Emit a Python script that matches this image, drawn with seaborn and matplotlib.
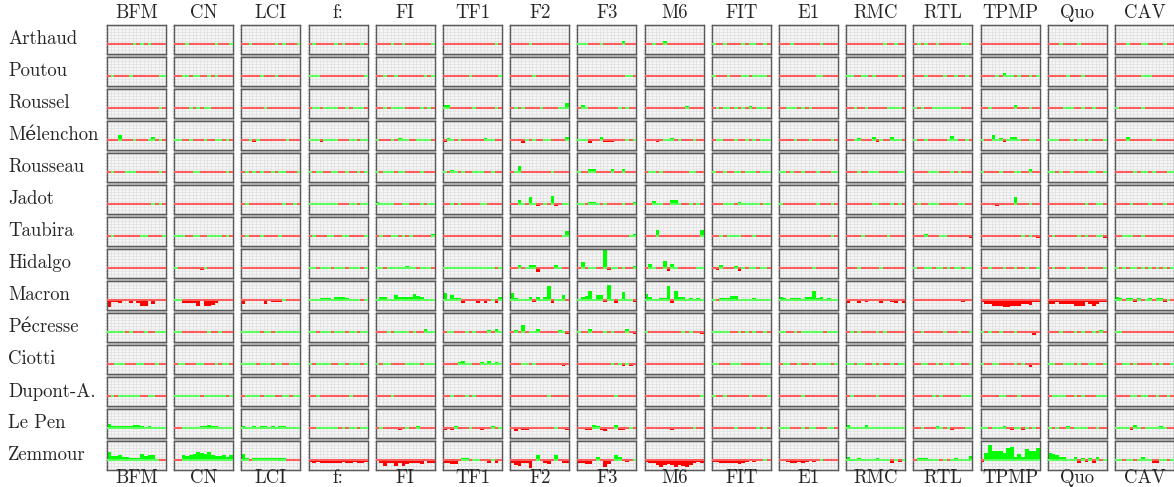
import numpy as np
import pandas as pd
import matplotlib.pyplot as plt
import seaborn as sns
from matplotlib.patches import Rectangle

# --- Données : un tableau par candidat, 16 chaînes x 16 périodes ---
channels = ['BFM', 'CN', 'LCI', 'f:', 'FI', 'TF1', 'F2', 'F3', 'M6', 'FIT', 'E1', 'RMC', 'RTL', 'TPMP', 'Quo', 'CAV']
candidates = ['Arthaud', 'Poutou', 'Roussel', 'Mélenchon', 'Rousseau', 'Jadot', 'Taubira', 'Hidalgo',
              'Macron', 'Pécresse', 'Ciotti', 'Dupont-A.', 'Le Pen', 'Zemmour']

arthaud = [
    [-.1,-.1,-.1,-.1,-.1,-.5,-.1,.1,-.1,.1,-.1,.1,-.5,-.1,-.1,-.1],
    [-.1,-.1,-.5,.1,-.1,-.5,-.1,-.1,-.1,-.1,-.1,.1,-.5,-.1,-.1,.1],
    [-.1,-.1,.1,-.1,-.1,-.5,-.1,-.1,-.1,.1,-.1,.1,-.5,-.1,-.1,.1],
    [-.1,.1,-.1,-.1,-.1,-.1,-.1,.1,-.1,.1,-.1,-.1,-.5,-.1,.1,-.1],
    [-.1,-.1,-.1,-.1,.1,-.5,-.1,.1,-.1,-.1,-.1,-.1,-.5,-.1,-.1,.1],
    [-.1,-.1,-.5,-.1,-.1,-.5,-.1,-.1,-.1,-.1,-.1,-.1,-.5,-.1,.1,-.1],
    [-.1,-.1,-.5,-.1,-.1,.1,-.1,-.1,-.1,-.1,-.1,-.1,-.5,-.1,-.1,-.1],
    [.1,.1,.1,-.1,-.1,-.5,.1,-.1,-.1,-.1,-.1,-.1,1.0,-.1,-.1,-.1],
    [-.1,-.1,.1,-.1,-.1,.9,-.1,-.1,-.1,-.1,-.1,-.1,-.5,-.1,-.1,-.1],
    [.1,-.1,-.5,.1,-.1,-.5,-.1,-.1,.1,-.1,.1,.1,-.5,-.1,.1,-.1],
    [-.1,-.1,-.5,.1,-.1,-.5,-.1,-.1,-.1,-.1,-.1,.1,-.5,-.1,-.1,-.1],
    [-.1,-.1,-.5,-.1,-.1,-.5,-.1,-.1,-.1,-.1,.1,-.1,-.5,.1,-.1,-.1],
    [-.1,.1,-.5,.1,-.1,-.5,.1,-.1,-.1,-.1,-.1,-.1,-.5,.1,.1,-.1],
    [-.1,-.1,-.5,-.1,-.1,-.5,-.1,-.1,-.1,-.1,-.1,-.1,-.5,-.1,-.1,-.1],
    [-.1,-.1,-.5,.1,-.1,-.5,-.1,-.1,.1,-.1,-.1,-.1,-.5,-.1,-.1,-.1],
    [-.1,-.1,-.5,.1,-.1,-.5,-.1,.1,.1,-.1,-.1,-.1,-.5,.1,-.1,-.1],
]
poutou = [
    [-.1,.1,-.1,-.1,-.1,-.1,.1,-.1,-.1,-.1,-.1,-.1,-.1,-.1,.1,.1],
    [-.1,-.1,.1,.1,-.1,.1,.1,-.1,-.1,.1,-.1,.1,-.1,-.1,-.1,-.1],
    [-.1,-.1,-.1,-.1,-.1,.1,-.1,-.1,-.1,.1,-.1,-.1,-.1,-.1,-.1,-.1],
    [.1,.1,.1,-.1,-.1,-.1,-.1,-.1,-.1,-.1,-.1,-.1,-.1,-.1,-.1,.1],
    [-.1,-.1,.1,-.1,-.1,.1,-.1,-.1,-.1,-.1,-.1,-.1,-.1,.1,-.1,.1],
    [-.1,-.1,-.1,-.1,-.1,-.1,-.1,.1,-.1,-.1,-.1,-.1,-.1,-.1,-.1,.1],
    [-.1,-.1,-.1,-.1,-.1,-.1,.1,-.1,-.1,-.1,-.1,-.1,-.1,-.1,-.1,-.1],
    [-.1,-.1,-.1,-.1,-.1,-.1,-.1,-.1,-.1,-.1,-.1,-.1,-.1,.1,.1,-.1],
    [-.1,-.1,-.1,-.1,-.1,-.1,-.1,-.1,-.1,-.1,-.1,-.1,-.1,-.1,-.1,-.1],
    [.1,-.1,-.1,-.1,.1,-.1,-.1,-.1,.1,.1,-.1,.1,.1,.1,.1,-.1],
    [-.1,-.1,-.1,-.1,-.1,-.1,-.1,-.1,-.1,-.1,.1,.1,-.1,-.1,-.1,-.1],
    [.1,.1,-.1,-.1,.1,.1,-.1,.1,-.1,-.1,-.1,-.1,-.1,-.1,.1,-.1],
    [-.1,-.1,-.1,.1,-.1,-.1,-.1,-.1,.1,-.1,-.1,.1,-.1,-.1,.1,-.1],
    [-.1,-.1,-.1,-.1,.1,-.1,1.0,.1,.1,-.1,.4,-.1,-.1,.1,-.1,.1],
    [-.1,-.1,-.1,-.1,-.1,.1,-.1,-.1,-.1,.1,-.1,-.1,-.1,-.1,-.1,-.1],
    [-.1,-.1,-.1,-.1,-.1,-.1,-.1,.1,.1,.1,-.1,-.1,-.1,-.1,-.1,-.1],
]
roussel = [
    [-.1,-.1,-.1,-.1,-.1,-.1,-.1,-.1,-.1,-.1,-.1,-.1,-.1,-.1,.1,-.1],
    [-.1,-.1,-.1,-.1,.1,-.1,.1,-.1,.1,.1,-.1,-.1,-.1,-.1,-.1,-.1],
    [-.1,-.1,-.1,-.1,-.1,-.1,.1,-.1,-.1,-.1,-.1,-.1,-.1,-.1,-.1,-.1],
    [-.1,.1,.1,-.1,.1,.1,.1,.1,-.1,-.1,.1,-.1,.1,.1,.1,-.1],
    [-.1,-.1,.1,-.1,.1,.1,.1,.1,-.1,-.1,-.1,-.1,.1,-.1,.1,-.1],
    [.8,.8,-.1,-.1,-.1,-.1,-.1,-.1,.1,-.1,-.1,-.1,-.1,-.1,.1,-.1],
    [-.1,.1,-.1,.4,-.1,-.1,-.1,-.1,.1,-.1,-.1,-.1,-.1,.1,.1,1.6],
    [-.1,1.1,.1,-.1,-.1,-.1,-.1,-.1,-.1,-.1,-.1,.1,-.1,.1,-.1,-.1],
    [-.1,-.1,-.1,-.1,-.1,-.1,-.1,-.1,-.1,-.1,-.1,.6,-.1,-.1,-.1,-.1],
    [-.1,.1,-.1,.1,.1,-.1,.1,-.1,.1,-.1,.6,-.1,.1,.1,.1,-.1],
    [-.1,-.1,.1,.1,.1,-.1,.1,-.1,.1,-.1,-.1,-.1,-.1,-.1,-.1,-.1],
    [-.1,-.1,.1,-.1,-.1,.1,-.1,-.1,-.1,-.1,-.1,.1,.1,.1,.1,-.1],
    [.3,-.1,.1,-.1,-.1,.1,.1,.3,.1,.1,.1,.1,.1,-.1,-.1,-.1],
    [-.1,-.1,.1,-.1,-.1,-.1,-.1,-.1,-.1,.8,-.1,-.1,-.1,.1,-.1,-.1],
    [-.1,-.1,-.1,-.1,.1,.1,.1,-.1,-.1,.1,-.1,-.1,.3,-.1,-.1,-.1],
    [.1,-.1,-.1,-.1,-.1,-.1,-.1,.3,-.1,-.1,-.1,-.1,-.1,-.1,-.1,-.1],
]
melenchon = [
    [-.1,-.1,-.1,1.5,-.1,-.1,-.1,.1,-.1,-.1,-.1,.1,1.1,-.1,.3,-.1],
    [.3,.3,-.1,-.1,.3,-.1,-.1,-.1,.3,-.1,-.1,.3,.3,-.1,.1,-.1],
    [-.1,-.1,.3,-.8,.1,-.1,-.1,-.5,-.1,-.1,-.1,-.1,.3,-.1,-.1,-.1],
    [.3,.3,.3,-.8,.1,.3,.1,.1,-.1,-.1,-.1,.1,.1,-.1,.1,.4],
    [.1,-.1,-.1,-.1,.1,-.3,.6,.3,.1,-.1,-.1,.1,.1,.1,.1,-.1],
    [-.8,.6,.1,-.5,.1,-.1,-.5,-.5,-.1,-.1,-.1,.5,.1,.1,-.1,-.5],
    [-.1,-.1,-.1,-1.0,.1,-.1,.2,-.5,-.1,.1,.1,-.1,-.1,-.1,-.1,1.0],
    [.1,.1,.1,-1.0,-.1,-.1,1.0,-.6,-.6,-.6,-.1,-.1,-.1,.1,-.1,.1],
    [-.5,-.1,-.1,-.8,-.1,.2,.2,.6,-.5,.3,-.5,-.1,-.1,.3,-.5,-.1],
    [-.1,.3,.3,-.1,-.1,-.1,.1,-.1,-.1,.2,-.1,.2,-.1,.2,.2,.2],
    [-.1,-.1,-.1,-.1,.1,-.1,-.1,-.5,.4,-.1,-.1,-.1,-.1,-.1,.2,-.1],
    [-.1,-.1,.1,.6,-.1,-.1,-.5,.8,-.8,.3,-.1,-.1,1.0,.1,.1,-.5],
    [.3,-.1,-.1,.1,-.1,-.1,-.4,-.1,-.3,.3,1.3,.1,-.1,-.1,.2,-.1],
    [.2,-.1,-.1,1.5,.1,.6,-.6,.3,.8,.8,.2,-.1,-.1,.2,.2,-.1],
    [.3,.3,.1,-.1,-.1,-.1,.3,-.1,.1,.1,-.1,.3,-.1,-.1,-.1,.1],
    [-.1,-.1,-.1,.9,-.1,-.1,-.4,-.1,-.1,-.1,.4,-.1,-.1,-.1,-.1,-.1],
]
rousseau = [
    [-.4,.1,-.3,-.5,-.3,.1,.1,.1,-.1,-.1,-.1,-.1,-.1,-.1,.1,-.1],
    [-.1,-.1,-.5,-.1,-.3,.1,.1,-.1,-.1,-.1,-.1,-.1,-.1,-.1,.1,-.1],
    [-.4,.2,-.3,.2,-.4,.1,-.1,-.1,.1,-.1,.1,.1,-.1,-.1,-.1,.1],
    [.1,-.1,.1,.1,-.1,-.1,.1,.1,-.1,-.1,.1,-.1,-.1,.1,-.1,.1],
    [.1,-.1,.1,.1,.1,-.1,.1,.1,-.1,-.1,-.1,-.1,.1,-.1,-.1,-.1],
    [.1,-.3,.7,.1,-.4,.1,-.1,-.1,.1,.4,.1,-.1,-.1,.1,-.1,-.1],
    [-.3,.1,2.0,-.4,-.1,-.1,-.1,-.1,-.1,-.1,-.1,.1,-.4,-.1,-.1,-.1],
    [.1,-.4,-.1,.8,.8,-.1,-.1,-.1,-.1,.8,-.1,-.1,.8,-.1,-.1,-.1],
    [-.3,.3,.1,-.4,.1,-.1,-.1,-.1,-.1,-.1,-.1,-.1,.1,.1,-.1,-.1],
    [.3,-.1,-.4,.3,-.1,-.1,.1,.1,-.1,.1,.1,.1,-.1,.1,.1,.1],
    [.1,.1,-.5,.1,-.1,-.1,.1,-.1,-.1,-.1,.1,-.1,-.1,-.1,.1,.3],
    [-.1,-.1,-.5,.1,-.3,-.1,.1,.1,.1,-.1,-.1,-.1,-.1,-.1,.1,.1],
    [-.1,-.1,-.3,-.3,.1,.1,.1,-.1,-.1,-.1,.1,-.1,.1,-.1,-.1,-.1],
    [.1,-.1,-.3,-.5,-.1,.1,-.1,-.1,-.1,.1,.1,-.1,-.3,.8,-.1,-.1],
    [.1,.1,-.5,.1,-.1,-.1,.1,-.1,-.1,-.1,-.1,.1,.1,-.1,-.1,.1],
    [-.1,-.1,-.5,-.1,-.1,.1,-.1,.1,.1,-.1,.1,-.1,-.3,-.1,.1,.1],
]
jadot = [
    [-.1,-.1,-.1,-.5,-.5,-.1,-.1,-.1,-.1,-.4,-.1,-.1,.1,-.1,.1,-.1],
    [-.1,-.1,-.5,-.5,-.5,-.1,-.1,-.5,-.5,-.5,-.1,-.1,-.1,-.1,-.1,-.5],
    [-.1,.1,-.1,-.1,-.5,-.1,-.1,-.1,-.1,-.1,-.1,.1,-.1,-.1,.1,-.1],
    [.4,.1,.4,.1,.4,.1,.1,.1,-.1,-.1,-.1,.2,.4,-.1,.1,.1],
    [.5,.1,.2,.2,.2,-.1,-.1,.2,.1,-.1,-.1,-.1,.1,-.1,.2,.2],
    [-.1,-.1,.4,-.1,.1,-.1,-.1,-.1,-.5,-.1,.1,.1,-.1,-.1,-.1,-.1],
    [-.1,-.1,1.3,.1,-.1,2.2,.2,-.6,-.1,.1,-.1,2.7,-.6,-.1,.1,.1],
    [.4,.1,-.1,.6,.6,.1,-.1,.1,-.1,-.1,-.1,-.5,.1,-.1,-.1,.7],
    [-.1,-.1,.9,.1,.4,-.1,-.1,1.2,1.2,.1,-.1,-.1,.4,-.1,.4,-.1],
    [-.1,-.1,-.5,.3,.3,.1,-.1,.6,.1,.1,.1,.1,.1,-.1,.1,.1],
    [.1,-.1,-.1,-.1,-.1,-.1,-.1,-.1,-.1,-.5,.1,-.1,-.1,-.1,.1,-.1],
    [-.1,-.1,-.5,-.1,-.5,-.1,-.1,.1,.1,-.1,-.1,-.1,.1,-.1,.1,-.1],
    [-.1,.4,-.3,-.1,.1,.1,.1,-.1,-.1,-.4,-.1,-.1,.4,.4,-.1,-.4],
    [-.1,-.1,-.4,-.4,-.8,-.1,-.1,-.4,-.4,2.2,-.1,-.4,-.4,.4,-.1,-.4],
    [-.1,-.1,-.4,-.1,-.1,-.1,-.1,-.1,-.4,-.1,.1,-.1,-.1,.1,.1,-.1],
    [-.1,-.1,-.5,-.1,.4,-.1,-.1,-.1,-.4,.4,-.1,-.1,-.5,.4,-.4,-.1],
]
taubira = [
    [-.1,.1,-.1,-.1,-.1,-.1,-.1,-.1,-.1,.1,.1,-.1,-.1,-.1,-.1,.4],
    [.1,.1,.4,-.1,-.1,.1,.1,-.1,-.1,.1,.1,.1,.1,-.1,.1,-.1],
    [-.1,.1,-.1,-.1,-.1,.1,-.1,-.1,-.1,-.1,.1,-.1,-.1,-.1,-.1,-.1],
    [-.1,.1,-.1,-.1,-.1,.1,.1,-.1,-.1,.1,.1,-.1,-.1,-.1,-.1,.4],
    [-.1,.1,-.1,-.1,.1,.1,-.1,.1,-.1,.1,-.1,-.1,-.1,-.1,-.1,.5],
    [-.1,-.1,-.1,-.1,-.1,-.1,-.1,-.1,-.1,-.1,-.1,-.1,-.1,-.1,-.1,-.1],
    [-.1,-.1,-.1,-.1,-.1,-.1,-.1,-.1,-.1,-.1,-.1,-.1,-.1,-.1,.1,1.7],
    [-.1,-.1,-.1,-.1,-.1,-.1,-.1,-.1,-.1,-.1,-.1,-.1,-.1,-.1,.2,.5],
    [-.1,-.1,-.1,2.0,-.1,-.1,-.1,-.1,-.1,-.1,-.1,-.1,-.1,-.1,-.1,2.0],
    [-.1,-.1,.3,-.1,.3,.1,.1,.1,-.1,-.1,-.1,.1,-.1,-.1,-.1,-.4],
    [-.1,-.1,-.1,-.1,-.1,-.1,-.1,-.1,-.1,-.1,-.1,-.1,-.1,-.1,.1,-.4],
    [-.1,-.1,-.1,-.1,.1,-.1,-.1,-.1,-.1,-.1,-.1,.1,-.1,-.1,-.1,-.4],
    [-.1,-.1,-.1,.5,-.1,-.1,-.1,.1,.1,-.1,-.1,-.1,-.1,-.1,-.1,-.6],
    [-.1,-.1,-.1,-.1,-.1,-.1,-.1,-.1,-.1,-.1,-.1,.1,-.1,.3,-.1,-.8],
    [-.1,.1,-.1,-.1,-.1,-.1,-.1,-.1,.2,-.1,.1,-.1,-.1,.4,.1,-.6],
    [-.1,-.1,.1,.3,.1,-.1,-.1,.1,-.1,-.1,-.1,-.1,-.1,-.1,-.1,-.1],
]
hidalgo = [
    [-.1,-.3,-.1,-.1,-.3,-.1,-.3,-.1,-.1,-.1,-.3,-.1,-.1,-.3,-.1,-.1],
    [.1,-.1,-.3,-.4,-.5,-.3,-.4,-.6,.1,-.1,-.1,-.3,-.1,-.1,-.3,-.1],
    [-.1,-.3,-.1,-.1,-.3,-.1,-.1,-.3,-.1,-.1,-.3,-.1,-.1,-.1,-.3,-.1],
    [.1,.1,-.1,.1,.1,.1,-.1,.1,.1,.1,-.1,.1,.1,.1,-.1,.1],
    [.1,.1,-.1,.1,.3,.1,.1,.3,.6,.4,.1,-.1,.1,.1,.3,-.1],
    [.1,.1,.1,.3,.1,.1,.3,.1,.3,.4,.1,.3,.1,.1,-.1,.1],
    [-.2,-.1,1.1,-.3,.1,1.1,1.1,-1.4,-.1,-.1,-.1,-.1,.8,.1,-.1,-.2],
    [-.1,1.8,-.5,.2,.2,-.1,-.1,6.0,-.6,.1,.1,-.4,.1,-.1,-.1,.6],
    [-.1,1.3,.1,-.3,-.1,2.4,-.9,1.3,.1,-.1,-.1,-.3,-.1,-.1,.2,.2],
    [-.1,-.7,1.0,-.1,-.1,-.1,.5,-.9,.1,-.1,.1,.1,-.1,.1,.1,-.1],
    [-.1,-.3,-.1,-.4,-.1,-.1,-.3,-.1,-.1,.1,-.1,-.3,-.1,-.1,-.1,-.1],
    [-.1,-.1,-.1,.1,-.1,-.1,-.3,-.1,-.1,.1,-.1,-.1,-.3,-.1,-.1,-.1],
    [.1,-.1,-.3,.1,.1,-.1,.1,.1,-.1,.1,-.3,.1,.1,-.1,.1,.1],
    [-.1,-.1,.1,-.3,-.1,-.1,.1,-.5,-.1,.1,-.1,-.1,.1,-.1,-.1,.1],
    [-.5,.1,-.1,-.3,-.1,.1,-.1,-.3,-.1,-.1,.1,-.3,-.1,-.1,-.1,.1],
    [.1,-.1,.1,-.3,.1,.1,-.1,.1,-.1,.1,-.3,.1,-.1,.1,-.1,.1],
]
macron = [
    [-2.4,-.6,-.6,-1.0,-.3,-.3,-1.2,-.3,-1.2,-2.0,-2.0,-.5,-1.5,-.1,-.1,-.1],
    [.3,.3,-1.0,-1.0,-1.2,-1.2,-2.0,-.5,-2.0,-2.2,-1.8,-1.0,-.5,-.5,-.1,-.1],
    [-1.5,-.4,-.4,-.1,-.1,-.1,-1.5,-.1,-.8,-.8,-.8,.3,-.5,-.1,-.1,-.1],
    [.1,.3,.3,.5,.5,.5,.3,.8,.8,.8,.5,.3,.1,.1,-.1,.1],
    [.1,1.1,.8,.4,.4,1.5,.8,.8,.8,1.1,1.9,1.4,1.1,.1,.1,.4],
    [2.2,.1,1.5,.5,.5,-.9,-.1,-.1,-.4,-1.2,-.1,-.9,-.1,.1,-.9,.8],
    [2.4,.6,.1,.1,.1,1.1,-.6,.8,.1,1.1,4.5,-1.2,.1,.1,1.5,-.2],
    [.1,.8,1.3,3.0,.1,1.5,1.5,-.7,5.0,.1,-1.2,.1,2.7,.1,.1,-.6],
    [2.0,1.1,.4,.4,.6,.6,4.7,-1.1,3.0,1.1,.9,.2,.6,.1,.6,.1],
    [.1,-.3,.5,.5,.5,1.2,1.2,.4,.4,.4,.3,.6,.1,.1,.1,.1],
    [1.0,.6,.3,.5,.6,.6,.3,1.0,1.0,3.0,.6,1.0,.1,.5,.1,.1],
    [-1.2,-.4,-.4,-1.2,-.4,-.8,-.4,-.4,-.4,-1.2,-.1,-.1,-.8,-1.2,-.1,-1.2],
    [-.4,-.4,-.1,-.4,-.1,-.1,-.4,-.1,-.1,-.1,-.1,-.4,-.1,-.8,-.1,-.4],
    [-.8,-1.5,-1.5,-2.0,-2.0,-2.0,-2.4,-2.4,-2.0,-2.2,-2.0,-1.5,-1.5,-1.8,-.8,-.8],
    [-1.5,-1.5,-.8,-1.5,-1.5,-1.5,-1.5,-2.0,-2.0,-2.0,-.8,-1.5,-2.0,-1.5,-.8,-.8],
    [.8,.5,-.4,.5,.5,-.8,.5,-.4,.1,.5,-.4,.5,.5,-.8,.1,-.4],
]
pecresse = [
    [.1,.1,.1,.3,.1,-.1,.1,-.1,-.2,-.1,.1,-.1,-.1,.1,.4,.3],
    [.1,.1,-.1,-.1,-.1,-.1,-.1,-.1,-.1,.1,-.1,-.1,.1,-.1,-.1,-.1],
    [.1,.2,.1,.2,.1,-.1,.1,.1,-.1,.1,.1,.2,.1,.4,.4,.4],
    [.1,.1,-.1,.1,.1,.1,-.1,.1,.1,.1,-.1,.1,.1,-.1,.1,.1],
    [-.1,-.1,-.1,.1,-.1,.1,.3,.1,.1,-.1,.1,-.1,-.1,.9,.1,.1],
    [-.1,.1,.1,-.5,-.1,-.1,.1,-.5,.4,-.1,-.1,-.1,.5,-.5,1.1,.1],
    [-.4,.5,-.1,2.2,-.1,.1,.1,1.0,-.1,-.5,-.5,-.1,-.1,.5,.1,-.8],
    [.1,-.1,-.1,1.0,-.4,-.1,-.1,.1,-.1,.1,-.1,-.1,-.1,.8,-.1,-.8],
    [.1,-.1,-.1,-.1,-.1,-.1,-.1,-.1,-.1,-.1,.1,-.1,.4,-.1,-.3,-.6],
    [.1,.1,.2,.4,.1,-.1,-.1,.1,-.1,.1,-.1,.1,-.1,-.1,.2,-.1],
    [.1,.1,-.1,-.1,.1,-.1,.1,.1,.1,.1,.1,.1,-.1,.1,.2,.1],
    [-.1,.1,-.1,.1,-.1,-.4,-.1,-.1,.1,-.1,.1,-.1,-.1,-.4,-.1,-.1],
    [-.1,-.1,.1,-.1,-.1,-.1,-.1,-.1,.1,-.1,-.4,-.1,.2,-.1,-.1,.1],
    [.1,-.1,.1,-.1,-.1,.1,-.1,-.1,-.1,.1,-.1,-.1,-.1,-.4,-1.2,-.1],
    [-.1,-.1,-.1,.1,-.1,-.1,-.1,.1,-.1,.1,-.1,-.1,.1,-.1,.5,-.1],
    [.4,.1,-.1,-.1,-.1,-.4,-.1,-.1,-.4,-.1,-.1,-.4,-.1,-.1,-.1,-.1],
]
ciotti = [
    [-.2,-.1,.1,.1,.1,-.3,-.1,-.3,.1,.1,-.3,-.1,-.3,.1,-.3,-.1],
    [-.3,.1,.1,-.1,-.1,-.1,.1,.1,-.1,-.1,-.3,.1,-.3,.1,.1,-.1],
    [.1,.1,.1,.1,-.1,.1,.1,.1,-.1,.1,.1,-.1,-.1,.1,.1,.1],
    [.1,-.1,.1,.1,.1,.1,-.1,-.1,.1,.1,-.1,.1,.1,.1,-.1,.1],
    [.1,-.4,.1,.1,-.1,-.1,-.1,-.1,.1,.1,.1,.1,-.4,.4,.1,.1],
    [-.1,-.1,-.1,-.1,.5,.8,.1,.1,-.1,-.1,.5,.1,.8,.1,.5,.1],
    [-.1,-.1,-.1,.1,.1,-.2,.1,-.1,-.1,-.1,-.1,-.4,-.1,-.1,-.6,-.1],
    [-.1,-.1,-.1,-.1,-.1,-.1,-.1,-.1,-.1,.1,-.3,.3,-.6,.1,-.6,-.1],
    [-.5,-.1,-.1,-.1,-.1,-.1,-.1,-.1,-.1,-.1,-.1,-.1,-.1,-.1,-.1,-.1],
    [.1,.1,-.1,-.1,-.1,.1,.1,.1,-.1,-.1,-.1,-.1,-.1,.1,.1,.1],
    [-.1,.1,.1,-.1,-.1,.1,-.1,-.1,.1,-.1,.1,.2,.1,.1,-.1,.1],
    [.1,.1,-.1,.1,.1,-.1,-.1,.1,-.1,.1,-.1,-.1,.1,-.1,.1,.1],
    [-.1,-.1,.1,.1,-.1,-.1,.1,-.1,.1,.1,-.1,.1,.1,-.1,-.1,.1],
    [.1,-.1,-.1,.1,.1,-.1,-.1,-.1,-.1,.1,-.1,.1,-.1,-1.0,-.1,-.1],
    [.1,.1,-.1,-.1,.1,.1,.1,-.1,.1,-.1,-.1,.1,.1,-.1,-.1,.1],
    [-.1,-.1,.1,.1,-.1,.1,-.1,-.1,-.1,-.1,.1,-.1,.1,-.1,-.1,.1],
]
dupont = [
    [-.1,.1,-.1,.1,.1,.1,.1,.1,.1,-.1,-.1,.1,.1,-.1,-.1,-.1],
    [.1,.1,.1,.1,.1,.1,.1,-.1,.1,.1,.1,.1,.1,.1,-.1,.1],
    [-.1,.1,.1,.1,.1,-.1,.1,.1,.1,-.1,-.1,.1,.1,-.1,.1,.1],
    [-.1,-.1,.1,-.1,-.1,-.1,-.1,-.1,-.1,-.1,-.1,.1,-.1,-.1,-.1,-.1],
    [-.1,-.1,-.1,-.1,.1,-.1,-.1,-.1,-.1,-.1,-.1,-.1,-.1,-.1,-.1,-.1],
    [-.1,-.1,.1,-.1,-.1,-.1,.1,-.1,.1,-.1,-.1,-.1,-.1,-.1,-.1,-.1],
    [-.1,-.1,-.1,-.1,-.1,-.1,-.1,-.1,-.1,-.1,.1,-.1,-.1,-.1,-.1,-.1],
    [-.1,-.1,-.1,-.1,-.1,-.1,-.1,-.1,-.1,-.1,.1,-.1,-.1,-.1,-.1,-.1],
    [-.1,-.1,-.1,-.1,-.1,-.1,-.1,-.1,-.1,-.1,-.1,-.1,-.1,-.1,-.1,.1],
    [.1,-.1,-.1,.1,-.1,-.1,-.1,-.1,-.1,-.1,.1,-.1,-.1,-.1,-.1,.1],
    [-.1,-.1,-.1,-.1,-.1,-.1,.1,-.1,-.1,-.1,-.1,-.1,-.1,-.1,-.1,-.1],
    [-.1,.1,-.1,-.1,-.1,-.1,-.1,-.1,.1,-.1,-.1,-.1,-.1,-.1,-.1,-.1],
    [-.1,-.1,-.1,-.1,-.1,.1,-.1,.1,-.1,-.1,-.1,-.1,-.1,.1,.1,.1],
    [-.1,-.1,-.1,-.1,-.1,.1,.3,-.1,-.1,-.1,.1,-.1,-.1,-.1,-.1,-.1],
    [-.1,.1,.1,.1,.1,-.1,-.1,.1,-.1,.1,-.1,-.1,-.1,.1,.1,.1],
    [-.1,-.1,-.1,-.1,.1,.1,-.1,.1,.1,-.1,-.1,.1,-.1,-.1,.1,-.1],
]
le_pen = [
    [1.4,.7,.7,.7,.5,.7,.7,1.1,1.1,.7,.4,.7,.4,.1,.1,.1],
    [-.1,-.1,.1,.4,.1,.1,.1,.6,.6,1.0,.6,.6,.4,.1,.1,.1],
    [.6,.4,.1,.6,.4,.6,.6,.4,.6,.4,.6,.6,.1,.1,.1,.1],
    [-.1,-.1,.1,.1,.3,.1,.1,.1,-.1,.3,-.1,.3,.3,-.1,.3,.4],
    [-.1,.3,-.5,-.5,-.1,-.5,-.8,-.1,.1,-.1,-.1,.5,-.1,-.1,-.1,-.1],
    [-.7,-.1,-.7,.5,-.1,-.1,-.1,.4,-.4,-.1,-.6,-.1,-.1,.5,-.1,.1],
    [-.5,-1.2,-.1,-.8,-.8,-.5,-.1,-.5,-.1,-.1,-.5,-.1,.1,-.4,-.1,-.7],
    [-.3,-.1,-.6,-.6,1.0,.5,-.7,-1.2,-.1,-.1,1.0,-.8,-.8,-.1,.3,-.3],
    [-.4,-.1,-.5,-.4,-.4,-.5,-.4,-.6,-.1,-.4,-.4,-.4,-.1,.1,-.4,-.1],
    [-.4,-.1,-.4,-.1,-.4,-.1,.3,-.1,-.1,-.1,-.4,-.1,.1,-.4,.1,-.1],
    [.4,.1,.3,-.1,-.4,-.1,.4,-.1,.1,.4,-.1,-.1,-.4,.4,.1,-.1],
    [.8,.4,.4,.4,.4,.8,.4,.4,.4,.3,.1,.3,.4,.1,.1,.1],
    [-.4,-.4,.4,-.1,-.1,-.1,.7,.1,-.2,.3,-.6,-.1,-.1,-.1,.1,.1],
    [.2,.2,-.3,.2,.2,.2,.6,-.1,-.8,.1,.4,-.6,.1,-.3,.1,-.3],
    [.1,-.4,.1,-.3,-.3,.5,-.4,.1,.1,.1,.3,-.1,-.1,.1,-.1,-.4],
    [.2,.2,.2,.2,-.8,1.0,.3,-.3,.2,.1,.1,.1,.5,.1,-.2,-.1],
]
zemmour = [
    [2.5,1.2,1.2,1.7,1.0,1.0,.6,.6,.6,2.0,1.2,1.6,1.6,.3,-.3,-.3],
    [-.4,-.4,1.5,1.3,1.7,2.0,2.6,2.2,2.0,2.6,1.7,1.3,1.3,1.7,1.0,1.7],
    [1.8,.7,-.4,.7,.7,.6,.6,.6,.6,.6,.6,.6,-.4,-.4,-.4,-.4],
    [-.6,-1.2,-.6,-1.0,-1.0,-1.0,-1.2,-1.0,-1.0,-.6,-1.0,-1.0,-.6,-1.0,-1.0,-.6],
    [-.3,-1.1,-1.9,-1.1,-1.1,-1.9,-1.1,-1.9,-1.5,-1.1,-1.1,-1.1,-1.5,-.3,-1.1,-1.1],
    [-1.0,-1.0,-1.5,-1.5,-.5,.5,.5,-.5,.3,.3,-.1,-.1,-1.0,.3,-1.0,-.1],
    [-1.0,-1.8,-2.2,-1.0,-1.0,-2.8,-.1,1.7,-.1,-1.0,-1.5,-.1,1.7,-.1,-1.0,-1.0],
    [-1.0,-1.0,-1.5,-1.5,-.1,1.0,-.3,-2.5,-1.5,-.1,1.7,1.0,-.5,-.8,-.5,.2],
    [-.6,-1.2,-1.2,-1.8,-2.5,-1.8,-1.5,-1.8,-2.5,-1.8,-2.2,-2.5,-1.8,-1.2,-.6,-1.2],
    [-.6,-.6,-1.0,-1.2,-1.2,-1.0,-1.2,-1.5,-1.0,-.6,-.4,-.6,-.4,-.4,.1,-.4],
    [-.4,-.4,-.6,-1.0,-1.0,-.6,-1.0,-.6,-.4,-.6,-.4,.1,-.4,-.4,-.4,-.4],
    [1.0,.4,.4,.6,.4,.4,.4,.4,.6,.4,.2,.2,-1.0,.2,-.6,.1],
    [-.3,.7,.7,.7,.1,.4,.1,-.3,.1,-.3,.1,.7,.1,.1,.1,1.3],
    [-.8,2.4,4.9,2.8,2.8,2.8,2.3,4.1,4.3,1.1,1.9,.8,3.5,3.0,3.0,3.9],
    [2.4,1.9,1.6,1.1,.8,.3,.3,.8,-.9,.5,-.6,.6,-.9,.8,-.4,.1],
    [.1,.1,-.3,.1,.1,-.4,.1,1.0,.1,.4,-1.0,-1.2,.1,.1,-.3,.1],
]

values = [arthaud, poutou, roussel, melenchon, rousseau, jadot, taubira, hidalgo,
          macron, pecresse, ciotti, dupont, le_pen, zemmour]

bar_colors = {'neg': '#ff0000', 'pos': '#00ff00'}
line_colors = {'neg': '#ff5c5c', 'pos': '#5cff5c'}

# --- Mise en forme ---
sns.set_theme(style="white")
plt.rcParams['font.family'] = ['cmr10', 'DejaVu Serif']
plt.rcParams['axes.unicode_minus'] = False
plt.rcParams['axes.formatter.use_mathtext'] = True
fs = 13.5

W, H = 1174, 487
# lignes au pas entier de 32 px (29 px de cellule + 3 px d'écart)
fig, axes = plt.subplots(
    14, 16, figsize=(W / 100, H / 100), dpi=100,
    gridspec_kw=dict(left=107 / W, right=1.0, top=1 - 25 / H, bottom=1 - 470 / H,
                     wspace=0.14, hspace=3 / 29))

bins = np.arange(16)
zeros = np.zeros(16)
for i, cand in enumerate(candidates):
    for j, ch in enumerate(channels):
        ax = axes[i, j]
        vals = np.array(values[i][j], dtype=float)
        sign = np.where(vals > 0, 'pos', 'neg')
        df = pd.DataFrame({'bin': bins, 'val': vals, 'sign': sign})
        sns.barplot(data=df, x='bin', y='val', hue='sign', hue_order=['neg', 'pos'],
                    palette=bar_colors, dodge=False, width=1.0, saturation=1,
                    errorbar=None, legend=False, linewidth=0, ax=ax, zorder=2)
        ax.hlines(zeros, bins - 0.5, bins + 0.5, colors=[line_colors[s] for s in sign],
                  lw=1.5, zorder=3)
        ax.set_xlim(-0.5, 15.5)
        ax.set_ylim(-3.4, 6.3)
        ax.set_xticks(np.arange(-0.5, 16, 1))
        ax.set_yticks(np.arange(-3, 7, 1))
        ax.set_facecolor('#f6f6f6')
        ax.grid(True, color='#e2e2e2', lw=0.6)
        ax.set_axisbelow(True)
        ax.tick_params(labelbottom=False, labelleft=False, bottom=False, left=True,
                       length=1.5, width=0.6, color='#cfcfcf', pad=0)
        ax.set_xlabel('')
        ax.set_ylabel('')
        for sp in ax.spines.values():
            sp.set_visible(True)
            sp.set_color('#5a5a5a')
            sp.set_linewidth(1.0)
        if i == 0:
            ax.set_title(ch, fontsize=fs, pad=5)
        if i == 13:
            p = ax.get_position()
            fig.text((p.x0 + p.x1) / 2, 1 - 483 / H, ch, ha='center', va='baseline',
                     fontsize=fs)
    p = axes[i, 0].get_position()
    fig.text(8 / W, (p.y0 + p.y1) / 2, cand, ha='left', va='center', fontsize=fs)

# bandes grises entre les lignes
for j in range(16):
    pt = axes[0, j].get_position()
    pb = axes[13, j].get_position()
    fig.add_artist(Rectangle((pt.x0, pb.y0), pt.width, pt.y1 - pb.y0,
                             transform=fig.transFigure, color='#c2c2c2', zorder=-1))

fig.savefig('out.png', dpi=100)
